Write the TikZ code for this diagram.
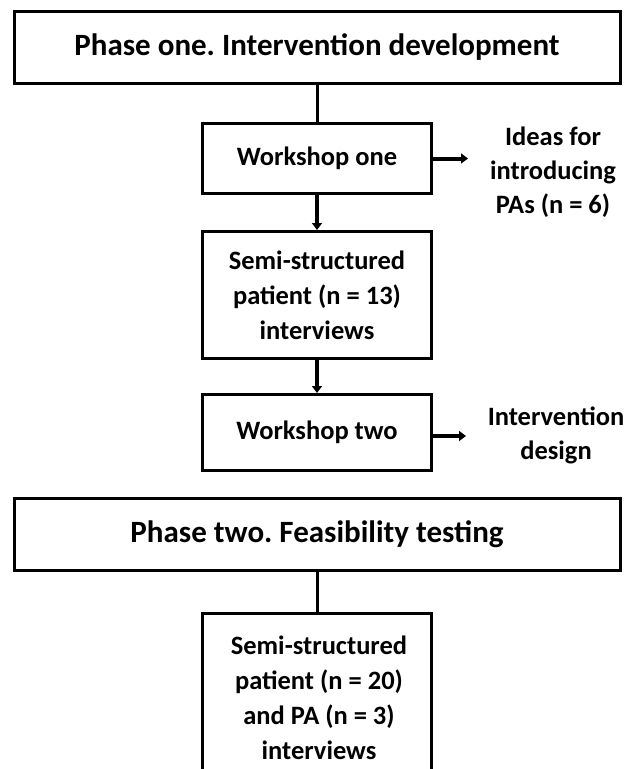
\documentclass[tikz,border=0pt]{standalone}
\usepackage{fontspec}
\setmainfont{Carlito}
\frenchspacing
\usetikzlibrary{arrows.meta, positioning}

\tikzset{
  phasebox/.style={draw, line width=3pt, minimum width=606pt, minimum height=72pt, font=\bfseries\fontsize{31}{37}\selectfont},
  stepbox/.style={draw, line width=3pt, align=center, minimum width=229pt, font=\bfseries\fontsize{26.5}{35}\selectfont},
  outtext/.style={align=center, font=\bfseries\fontsize{26.5}{34}\selectfont},
  flow/.style={line width=4pt, -{Triangle[length=7pt,width=10pt]}},
  link/.style={line width=3pt}
}

\begin{document}
\begin{tikzpicture}[x=1pt,y=-1pt]
		\useasboundingbox (0,0) rectangle (630,769);
		\clip (0,0) rectangle (630,769);
		
		% Phase one
		\node[phasebox] (phaseone) at (317,47.5) {Phase one. Intervention development};
		\node[stepbox, minimum height=70pt] (wsone) at (317,158.5) {Workshop one};
		\node[stepbox, minimum height=127pt] (semione) at (317,295) {Semi-structured\\patient (n = 13)\\interviews};
		\node[stepbox, minimum height=76pt] (wstwo) at (317,432.5) {Workshop two};
		\node[outtext] (ideas) at (553,172) {Ideas for\\introducing\\PAs (n = 6)};
		\node[outtext] (design) at (556,435) {Intervention\\design};
		\coordinate (ideasin) at (468,158.5);
		\coordinate (designin) at (466,436);
		
		\draw[link] (phaseone) -- (wsone);
		\draw[flow] (wsone) -- (semione);
		\draw[flow] (semione) -- (wstwo);
		\draw[flow] (wsone.east |- ideasin) -- (ideasin);
		\draw[flow] (wstwo.east |- designin) -- (designin);
		
		% Phase two
		\node[phasebox] (phasetwo) at (317,534.5) {Phase two. Feasibility testing};
		\node[stepbox, minimum height=190pt, anchor=north] (semitwo) at (317,611.5) {};
		\node[outtext, font=\bfseries\fontsize{26.5}{35}\selectfont] (semitwotext) at (319,697.5) {Semi-structured\\patient (n = 20)\\and PA (n = 3)\\interviews};
		
		\draw[link] (phasetwo) -- (semitwo);
\end{tikzpicture}
\end{document}
